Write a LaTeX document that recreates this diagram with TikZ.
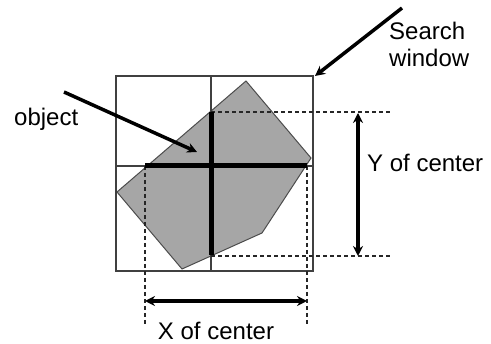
\documentclass[tikz,border=0pt]{standalone}
\usepackage{fontspec}
\setmainfont{Liberation Sans}
\usetikzlibrary{arrows.meta}
\begin{document}
\begin{tikzpicture}[x=1pt,y=-1pt,
  lbl/.style={inner sep=0pt,font=\fontsize{24}{27}\selectfont},
  grid/.style={draw=black!75,line width=1.1pt},
  obj/.style={fill=black!35,draw=black!70,line width=1pt},
  crossbar/.style={line width=5pt,black},
  guide/.style={draw=black!85,line width=1.3pt,dash pattern=on 4pt off 3pt},
  pointer/.style={line width=3.5pt,-{Stealth[length=10pt,width=10pt]}},
  dim/.style={line width=3.5pt,{Stealth[length=10pt,width=10pt]}-{Stealth[length=10pt,width=10pt]}}]
\useasboundingbox (0,0) rectangle (491,344);
% coordinates
\coordinate (bl) at (116,76);
\coordinate (br) at (313,271);
\coordinate (ptop) at (246,81);
\coordinate (pright) at (311,158);
\coordinate (pr2) at (262,233);
\coordinate (pbot) at (182,269);
\coordinate (pleft) at (117,192);
\coordinate (hL) at (145,166);
\coordinate (hR) at (307,166);
\coordinate (vT) at (211,112);
\coordinate (vB) at (211,255);
% object polygon
\path[obj] (ptop) -- (pright) -- (pr2) -- (pbot) -- (pleft) -- cycle;
% window grid
\draw[grid] (bl) rectangle (br);
\draw[grid] (211,76) -- (211,271);
\draw[grid] (116,166) -- (313,166);
% guides
\coordinate (gTR) at (392,112);
\coordinate (gBR) at (392,256);
\coordinate (gLB) at (145,324);
\coordinate (gRB) at (307,324);
\draw[guide] (vT) -- (gTR);
\draw[guide] (211,256) -- (gBR);
\draw[guide] (hL) -- (gLB);
\draw[guide] (hR) -- (gRB);
% cross
\draw[crossbar] (hL) -- (hR);
\draw[crossbar] (vT) -- (vB);
% dimension arrows
\coordinate (yT) at (358,113);
\coordinate (yB) at (358,256);
\coordinate (xL) at (145,301);
\coordinate (xR) at (307,301);
\draw[dim] (yT) -- (yB);
\draw[dim] (xL) -- (xR);
% labels
\node[lbl,anchor=west] (ylab) at (367,163) {Y of center};
\node[lbl] (xlab) at (216,331) {X of center};
\node[lbl,anchor=west] (objlab) at (14,119) {object};
\node[lbl,align=left,anchor=west] (swlab) at (389,44) {Search\\window};
% pointer arrows
\coordinate (swS) at (402,8);
\coordinate (swE) at (315,76);
\draw[pointer] (swS) -- (swE);
\coordinate (obS) at (64,92);
\coordinate (obE) at (197,152);
\draw[pointer] (obS) -- (obE);
\end{tikzpicture}
\end{document}
